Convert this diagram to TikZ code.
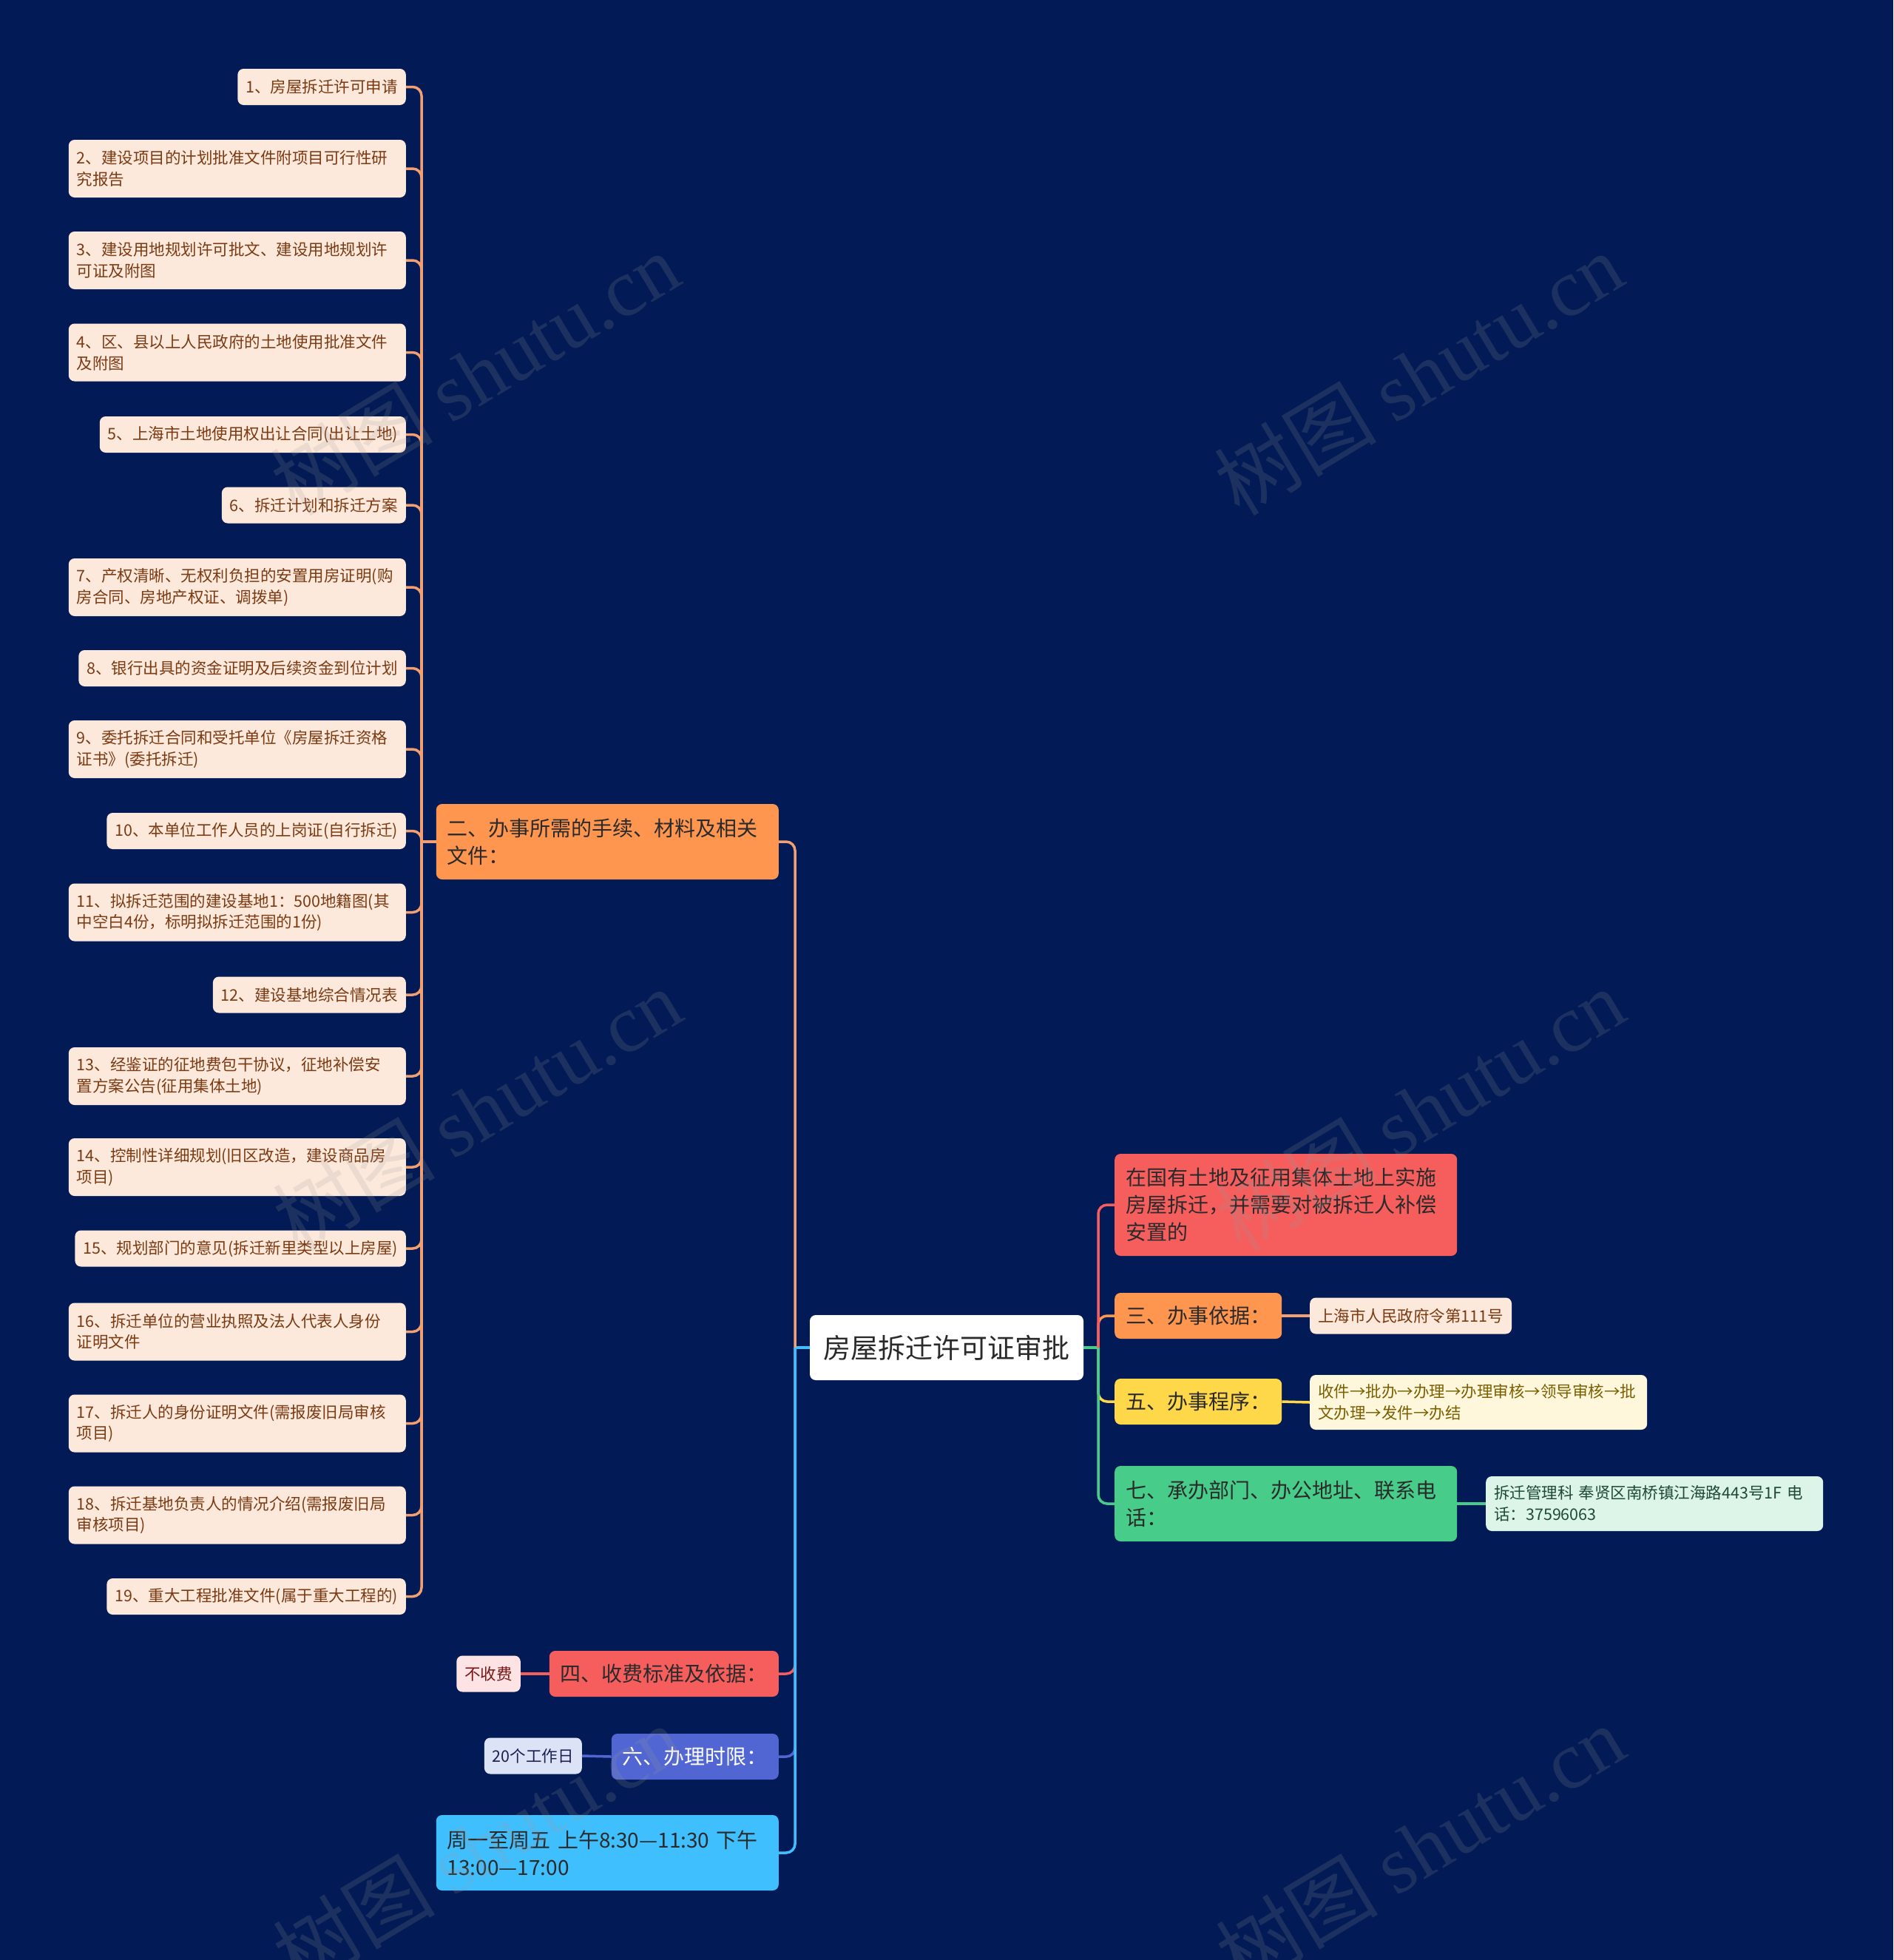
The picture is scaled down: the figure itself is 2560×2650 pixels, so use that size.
\documentclass[tikz,border=0pt]{standalone}
\usepackage{fontspec}
\setmainfont{Noto Sans CJK SC}
\newfontfamily\wmserif{Liberation Serif}
\newfontfamily\wmcjk{Noto Sans CJK SC}
\definecolor{bgc}{HTML}{021A55}
\definecolor{leaffill}{HTML}{FDE9DC}
\definecolor{leaftext}{HTML}{7A3A12}
\definecolor{orangeline}{HTML}{F2A072}
\definecolor{orangefill}{HTML}{FF9650}
\definecolor{redfill}{HTML}{F65E5E}
\definecolor{yellowfill}{HTML}{FFD84A}
\definecolor{greenfill}{HTML}{48CC8A}
\definecolor{indigofill}{HTML}{5166D2}
\definecolor{bluefill}{HTML}{40BFFF}
\definecolor{darktext}{HTML}{2A2A2A}
\definecolor{yleaffill}{HTML}{FFF7DC}
\definecolor{yleaftext}{HTML}{7A5E00}
\definecolor{gleaffill}{HTML}{DDF5E9}
\definecolor{gleaftext}{HTML}{1F4A34}
\definecolor{rleaffill}{HTML}{FDE3E3}
\definecolor{rleaftext}{HTML}{7A1616}
\definecolor{ileaffill}{HTML}{DDE3F6}
\definecolor{ileaftext}{HTML}{1A2050}
\definecolor{wmgray}{HTML}{9A9A9A}
\begin{document}
\begin{tikzpicture}[x=1pt,y=-1pt,
  leafbox/.style={fill=leaffill, text=leaftext, rounded corners=8pt,
    font=\fontsize{21.5}{28.5}\selectfont, inner xsep=11pt, inner ysep=0pt,
    minimum height=49pt, align=left},
  leaftwo/.style={leafbox, text width=434pt, minimum height=78pt},
  midbox/.style={rounded corners=8pt, text=darktext,
    font=\fontsize{28}{37}\selectfont, inner xsep=15pt, inner ysep=0pt,
    minimum height=62pt, align=left},
  midwide/.style={midbox, text width=433pt},
  conn/.style={line width=3.5pt, rounded corners=12pt},
  wm/.style={opacity=0.18, text=wmgray, rotate=31, inner sep=0pt}
]
\fill[bgc] (0,0) rectangle (2560,2650);
\useasboundingbox (0,0) rectangle (2560,2650);

% root
\node[fill=white, text=darktext, rounded corners=8pt, minimum width=370pt, minimum height=88pt,
  font=\fontsize{37}{44}\selectfont, inner sep=0pt] (root) at (1280,1822) {房屋拆迁许可证审批};

% left branch nodes
\node[midwide, fill=orangefill, anchor=east, minimum height=102pt] (n2) at (1053,1138) {二、办事所需的手续、材料及相关\\文件：};
\node[midbox, fill=redfill, anchor=east] (n4) at (1053,2263) {四、收费标准及依据：};
\node[midbox, fill=indigofill, text=white, anchor=east] (n6) at (1053,2375) {六、办理时限：};
\node[midwide, fill=bluefill, anchor=east, minimum height=102pt] (nt) at (1053,2505) {周一至周五 上午8:30—11:30 下午\\13:00—17:00};

\node[leafbox, fill=rleaffill, text=rleaftext, anchor=east] (fee) at (704,2263) {不收费};
\node[leafbox, fill=ileaffill, text=ileaftext, anchor=east] (days) at (787,2374) {20个工作日};

% right branch nodes
\node[midwide, fill=redfill, anchor=west, minimum height=138pt] (nr) at (1507,1629) {在国有土地及征用集体土地上实施\\房屋拆迁，并需要对被拆迁人补偿\\安置的};
\node[midbox, fill=orangefill, anchor=west] (n3) at (1507,1779) {三、办事依据：};
\node[midbox, fill=yellowfill, anchor=west] (n5) at (1507,1895) {五、办事程序：};
\node[midwide, fill=greenfill, anchor=west, minimum height=102pt] (n7) at (1507,2033) {七、承办部门、办公地址、联系电\\话：};

\node[leafbox, anchor=west] (law) at (1771,1779) {上海市人民政府令第111号};
\node[leaftwo, fill=yleaffill, text=yleaftext, anchor=west, minimum height=74pt] (proc) at (1771,1896) {收件→批办→办理→办理审核→领导审核→批\\文办理→发件→办结};
\node[leaftwo, fill=gleaffill, text=gleaftext, anchor=west, minimum height=74pt] (dept) at (2009,2033) {拆迁管理科 奉贤区南桥镇江海路443号1F 电\\话：37596063};

% left leaves
\node[leafbox, anchor=east] (L1) at (549,117.5) {1、房屋拆迁许可申请};
\node[leaftwo, anchor=east] (L2) at (549,228) {2、建设项目的计划批准文件附项目可行性研\\究报告};
\node[leaftwo, anchor=east] (L3) at (549,352) {3、建设用地规划许可批文、建设用地规划许\\可证及附图};
\node[leaftwo, anchor=east] (L4) at (549,476.5) {4、区、县以上人民政府的土地使用批准文件\\及附图};
\node[leafbox, anchor=east] (L5) at (549,587.5) {5、上海市土地使用权出让合同(出让土地)};
\node[leafbox, anchor=east] (L6) at (549,683) {6、拆迁计划和拆迁方案};
\node[leaftwo, anchor=east] (L7) at (549,794) {7、产权清晰、无权利负担的安置用房证明(购\\房合同、房地产权证、调拨单)};
\node[leafbox, anchor=east] (L8) at (549,903.5) {8、银行出具的资金证明及后续资金到位计划};
\node[leaftwo, anchor=east] (L9) at (549,1013) {9、委托拆迁合同和受托单位《房屋拆迁资格\\证书》(委托拆迁)};
\node[leafbox, anchor=east] (L10) at (549,1123.5) {10、本单位工作人员的上岗证(自行拆迁)};
\node[leaftwo, anchor=east] (L11) at (549,1233.5) {11、拟拆迁范围的建设基地1：500地籍图(其\\中空白4份，标明拟拆迁范围的1份)};
\node[leafbox, anchor=east] (L12) at (549,1345) {12、建设基地综合情况表};
\node[leaftwo, anchor=east] (L13) at (549,1455) {13、经鉴证的征地费包干协议，征地补偿安\\置方案公告(征用集体土地)};
\node[leaftwo, anchor=east] (L14) at (549,1578) {14、控制性详细规划(旧区改造，建设商品房\\项目)};
\node[leafbox, anchor=east] (L15) at (549,1688) {15、规划部门的意见(拆迁新里类型以上房屋)};
\node[leaftwo, anchor=east] (L16) at (549,1800.5) {16、拆迁单位的营业执照及法人代表人身份\\证明文件};
\node[leaftwo, anchor=east] (L17) at (549,1924.5) {17、拆迁人的身份证明文件(需报废旧局审核\\项目)};
\node[leaftwo, anchor=east] (L18) at (549,2048.5) {18、拆迁基地负责人的情况介绍(需报废旧局\\审核项目)};
\node[leafbox, anchor=east] (L19) at (549,2158.5) {19、重大工程批准文件(属于重大工程的)};

% junction coordinates
\coordinate (t2) at (570,1138);
\coordinate (tl) at (1075,1822);
\coordinate (tr) at (1485,1822);

% connectors: 二 to its leaves
\draw[conn, orangeline] (n2.west) -- (t2);
\foreach \k in {1,...,19} {
  \draw[conn, orangeline] (t2) |- (L\k.east);
}
% root left side
\draw[conn, bluefill] (root.west) -- (tl);
\draw[conn, orangeline] (tl) |- (n2.east);
\draw[conn, redfill] (tl) |- (n4.east);
\draw[conn, indigofill] (tl) |- (n6.east);
\draw[conn, bluefill] (tl) |- (nt.east);
% root right side
\draw[conn, greenfill] (root.east) -- (tr);
\draw[conn, orangefill] (tr) |- (n3.west);
\draw[conn, redfill] (tr) |- (nr.west);
\draw[conn, yellowfill] (tr) |- (n5.west);
\draw[conn, greenfill] (tr) |- (n7.west);
% leaf connectors
\draw[conn, redfill] (n4.west) -- (fee.east);
\draw[conn, indigofill] (n6.west) -- (days.east);
\draw[conn, orangeline] (n3.east) -- (law.west);
\draw[conn, yellowfill] (n5.east) -- (proc.west);
\draw[conn, greenfill] (n7.east) -- (dept.west);

% watermarks
\foreach \wx/\wy [count=\i] in {642/505, 1918/505, 645/1500, 1920/1500, 645/2496, 1920/2496} {
  \node[wm] (wm\i) at (\wx,\wy) {\fontsize{110}{110}\selectfont\wmcjk 树图 \wmserif shutu.cn};
}
\end{tikzpicture}
\end{document}
